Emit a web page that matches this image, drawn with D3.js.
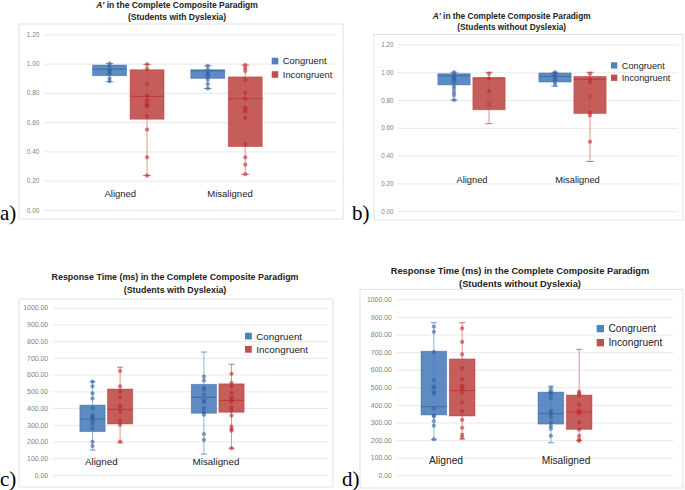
<!DOCTYPE html>
<html>
<head>
<meta charset="utf-8">
<script src="https://cdn.jsdelivr.net/npm/d3@7"></script>
<style>
  body { margin: 0; background: #fff; }
  svg { display: block; font-family: "Liberation Sans", Arial, sans-serif; }
</style>
</head>
<body>
<svg id="chart" width="685" height="490"></svg>
<script>
// --- data ---
const categories = ["Aligned", "Misaligned"];
const seriesNames = ["Congruent", "Incongruent"];
const accTicks = [0, 0.2, 0.4, 0.6, 0.8, 1.0, 1.2];
const rtTicks = [0, 100, 200, 300, 400, 500, 600, 700, 800, 900, 1000];

// A' (students with dyslexia)
const accDys = [
  { cat: "Aligned", s: "Congruent", lo: 0.876, q1: 0.917, med: 0.962, q3: 0.99, hi: 1.0, mean: 0.945,
    pts: [1.0, 0.98, 0.95, 0.93, 0.90, 0.88] },
  { cat: "Aligned", s: "Incongruent", lo: 0.235, q1: 0.62, med: 0.776, q3: 0.958, hi: 0.995, mean: 0.72,
    pts: [0.995, 0.965, 0.86, 0.78, 0.75, 0.72, 0.71, 0.64, 0.55, 0.36, 0.235] },
  { cat: "Misaligned", s: "Congruent", lo: 0.83, q1: 0.899, med: 0.95, q3: 0.958, hi: 0.985, mean: 0.93,
    pts: [0.985, 0.96, 0.93, 0.91, 0.89, 0.86, 0.83] },
  { cat: "Misaligned", s: "Incongruent", lo: 0.244, q1: 0.433, med: 0.76, q3: 0.909, hi: 0.99, mean: 0.683,
    pts: [0.99, 0.97, 0.95, 0.89, 0.80, 0.76, 0.70, 0.675, 0.63, 0.45, 0.36, 0.31, 0.244] }
];

// A' (students without dyslexia)
const accCtrl = [
  { cat: "Aligned", s: "Congruent", lo: 0.80, q1: 0.909, med: 0.975, q3: 0.99, hi: 1.0, mean: 0.948,
    pts: [1.0, 0.98, 0.96, 0.95, 0.93, 0.90, 0.88, 0.855, 0.835, 0.80] },
  { cat: "Aligned", s: "Incongruent", lo: 0.63, q1: 0.73, med: 0.96, q3: 0.96, hi: 1.0, mean: 0.77,
    pts: [0.99, 0.955, 0.866] },
  { cat: "Misaligned", s: "Congruent", lo: 0.90, q1: 0.93, med: 0.97, q3: 0.995, hi: 1.0, mean: 0.96,
    pts: [1.0, 0.99, 0.97, 0.95, 0.93, 0.91] },
  { cat: "Misaligned", s: "Incongruent", lo: 0.358, q1: 0.703, med: 0.95, q3: 0.97, hi: 1.0, mean: 0.823,
    pts: [0.99, 0.95, 0.93, 0.71, 0.69, 0.50] }
];

// Response time (students with dyslexia)
const rtDys = [
  { cat: "Aligned", s: "Congruent", lo: 149, q1: 259, med: 335, q3: 418, hi: 558, mean: 340,
    pts: [558, 530, 488, 458, 400, 358, 345, 329, 309, 279, 199, 173] },
  { cat: "Aligned", s: "Incongruent", lo: 193, q1: 305, med: 392, q3: 514, hi: 644, mean: 405,
    pts: [622, 530, 500, 463, 410, 380, 325, 300, 200] },
  { cat: "Misaligned", s: "Congruent", lo: 125, q1: 369, med: 464, q3: 542, hi: 735, mean: 442,
    pts: [588, 565, 520, 510, 480, 440, 400, 375, 360, 245, 210] },
  { cat: "Misaligned", s: "Incongruent", lo: 160, q1: 375, med: 446, q3: 545, hi: 662, mean: 458,
    pts: [605, 550, 530, 490, 460, 440, 405, 385, 355, 290, 275, 265, 160] }
];

// Response time (students without dyslexia)
const rtCtrl = [
  { cat: "Aligned", s: "Congruent", lo: 202, q1: 343, med: 390, q3: 705, hi: 867, mean: 505,
    pts: [845, 815, 700, 540, 500, 475, 465, 380, 340, 335, 308, 282, 205] },
  { cat: "Aligned", s: "Incongruent", lo: 206, q1: 337, med: 481, q3: 661, hi: 867, mean: 495,
    pts: [835, 758, 688, 608, 545, 510, 495, 470, 415, 365, 315, 270, 230, 215] },
  { cat: "Misaligned", s: "Congruent", lo: 185, q1: 291, med: 350, q3: 473, hi: 507, mean: 470,
    pts: [495, 475, 465, 440, 365, 350, 330, 300, 280, 265, 225] },
  { cat: "Misaligned", s: "Incongruent", lo: 197, q1: 261, med: 360, q3: 456, hi: 716, mean: 360,
    pts: [475, 465, 455, 400, 365, 355, 300, 260, 225, 205, 195] }
];

const fill = { Congruent: "#4f81bd", Incongruent: "#c0504d" };
const dark = { Congruent: "#2f5f9e", Incongruent: "#c0282a" };

// --- layout for each panel ---
const panels = [
  { letter: "a)", boxes: accDys, ticks: accTicks, fmt: d3.format(".2f"), domain: [0, 1.2],
    title: [["A′", " in the Complete Composite Paradigm"], "(Students with Dyslexia)"],
    titleX: 177, titleY: [7.5, 19.5], titleFs: 8.5,
    frame: [19, 24, 343, 219], plotX: [44, 337], plotY: [210, 34.3], tickFs: 6.5,
    centers: [128.3, 226.5], boxW: 34, gap: 3.5, catY: 196.5, catFs: 9.5, catShift: [-8, 3.5],
    legend: { x: 271.7, y: 57.7, sq: 6.6, dy: 13.5, fs: 9.4 },
    letterPos: [0, 220] },
  { letter: "b)", boxes: accCtrl, ticks: accTicks, fmt: d3.format(".2f"), domain: [0, 1.2],
    title: [["A′", " in the Complete Composite Paradigm"], "(Students without Dyslexia)"],
    titleX: 511.7, titleY: [19, 29.5], titleFs: 8.3,
    frame: [374, 34.5, 683, 220], plotX: [398, 678], plotY: [211.2, 44.5], tickFs: 6.3,
    centers: [471.5, 572.5], boxW: 32.3, gap: 2.7, catY: 182.5, catFs: 9.3, catShift: [0.5, 5],
    legend: { x: 611, y: 62.3, sq: 6.3, dy: 12.3, fs: 9.2 },
    letterPos: [352, 220] },
  { letter: "c)", boxes: rtDys, ticks: rtTicks, fmt: d3.format(".2f"), domain: [0, 1000],
    title: [["", "Response Time (ms) in the Complete Composite Paradigm"], "(Students with Dyslexia)"],
    titleX: 175, titleY: [280, 293], titleFs: 8.9,
    frame: [19, 299, 333, 487], plotX: [53, 328], plotY: [475, 307.7], tickFs: 6.9,
    centers: [106.3, 217.7], boxW: 25.3, gap: 2.3, catY: 465, catFs: 9.8, catShift: [-5, -1.7],
    legend: { x: 245, y: 332.7, sq: 6.8, dy: 13.2, fs: 9.8 },
    letterPos: [0, 486] },
  { letter: "d)", boxes: rtCtrl, ticks: rtTicks, fmt: d3.format(".2f"), domain: [0, 1000],
    title: [["", "Response Time (ms) in the Complete Composite Paradigm"], "(Students without Dyslexia)"],
    titleX: 520, titleY: [274, 287], titleFs: 9.3,
    frame: [360, 289.3, 683, 488], plotX: [396.7, 673], plotY: [475.3, 299.3], tickFs: 6.9,
    centers: [448, 565], boxW: 25.7, gap: 2.6, catY: 463.5, catFs: 10.2, catShift: [-2, 1],
    legend: { x: 596.7, y: 325, sq: 7.3, dy: 14, fs: 10.2 },
    letterPos: [342, 486] }
];

const svg = d3.select("#chart");

function drawPanel(p) {
  const g = svg.append("g").attr("class", "panel");

  // outer frame
  g.append("rect")
    .attr("x", p.frame[0]).attr("y", p.frame[1])
    .attr("width", p.frame[2] - p.frame[0]).attr("height", p.frame[3] - p.frame[1])
    .attr("fill", "none").attr("stroke", "#d9d9d9").attr("stroke-width", 0.8);

  const y = d3.scaleLinear().domain(p.domain).range(p.plotY);

  // category bands centred on the read-off positions
  const step = p.centers[1] - p.centers[0];
  const x = d3.scaleBand().domain(categories)
    .range([p.centers[0] - step / 2, p.centers[1] + step / 2]);
  const half = p.boxW + p.gap / 2;
  const xs = d3.scaleBand().domain(seriesNames)
    .range([step / 2 - half, step / 2 + half])
    .paddingInner(p.gap / (p.boxW + p.gap));

  // y axis with gridlines
  const yAxis = d3.axisLeft(y)
    .tickValues(p.ticks)
    .tickSize(-(p.plotX[1] - p.plotX[0]))
    .tickPadding(p.tickFs * 0.7)
    .tickFormat(p.fmt);
  const ag = g.append("g")
    .attr("transform", `translate(${p.plotX[0]},0)`)
    .call(yAxis);
  ag.select(".domain").remove();
  ag.selectAll("line").attr("stroke", "#e3e3e3").attr("stroke-width", 0.8);
  ag.selectAll("text").attr("fill", "#7f7f7f").attr("font-size", p.tickFs)
    .attr("font-family", "Liberation Sans, Arial, sans-serif");

  // category labels
  const xAxis = d3.axisBottom(x).tickSize(0).tickPadding(0);
  const xg = g.append("g").attr("transform", `translate(0,${p.catY})`).call(xAxis);
  xg.select(".domain").remove();
  xg.selectAll("text").attr("dy", 0).attr("y", 0)
    .attr("x", (d, i) => p.catShift[i])
    .attr("fill", "#222").attr("font-size", p.catFs)
    .attr("font-family", "Liberation Sans, Arial, sans-serif");

  // boxes
  const bg = g.selectAll("g.box").data(p.boxes).join("g")
    .attr("class", "box")
    .attr("transform", d => `translate(${x(d.cat) + xs(d.s)},0)`);
  const bw = xs.bandwidth();
  const cx = bw / 2;
  const cap = Math.max(6, bw * 0.23);

  bg.append("line")
    .attr("x1", cx).attr("x2", cx)
    .attr("y1", d => y(d.hi)).attr("y2", d => y(d.lo))
    .attr("stroke", d => fill[d.s]).attr("stroke-opacity", 0.6).attr("stroke-width", 1);
  bg.selectAll("line.cap").data(d => [[d.lo, d.s], [d.hi, d.s]]).join("line")
    .attr("class", "cap")
    .attr("x1", cx - cap / 2).attr("x2", cx + cap / 2)
    .attr("y1", v => y(v[0])).attr("y2", v => y(v[0]))
    .attr("stroke", v => fill[v[1]]).attr("stroke-opacity", 0.8).attr("stroke-width", 1);
  bg.append("rect")
    .attr("x", 0).attr("width", bw)
    .attr("y", d => y(d.q3)).attr("height", d => y(d.q1) - y(d.q3))
    .attr("fill", d => fill[d.s]).attr("fill-opacity", 0.92)
    .attr("stroke", d => dark[d.s]).attr("stroke-opacity", 0.5).attr("stroke-width", 0.8);
  bg.append("line")
    .attr("x1", 0).attr("x2", bw)
    .attr("y1", d => y(d.med)).attr("y2", d => y(d.med))
    .attr("stroke", d => dark[d.s]).attr("stroke-opacity", 0.7).attr("stroke-width", 1);

  // inner points
  bg.selectAll("circle").data(d => d.pts.map(v => ({ v, s: d.s }))).join("circle")
    .attr("cx", cx).attr("cy", v => y(v.v)).attr("r", 1.8)
    .attr("fill", v => dark[v.s]).attr("fill-opacity", 0.55)
    .attr("stroke", v => dark[v.s]).attr("stroke-opacity", 0.6).attr("stroke-width", 0.6);

  // mean marker
  bg.append("path")
    .attr("transform", d => `translate(${cx},${y(d.mean)})`)
    .attr("d", d3.symbol(d3.symbolTimes, 22))
    .attr("fill", "none")
    .attr("stroke", d => dark[d.s]).attr("stroke-opacity", 0.75).attr("stroke-width", 1);

  // legend
  const lg = g.append("g").selectAll("g").data(seriesNames).join("g")
    .attr("transform", (d, i) => `translate(${p.legend.x},${p.legend.y + i * p.legend.dy})`);
  lg.append("rect").attr("width", p.legend.sq).attr("height", p.legend.sq)
    .attr("fill", d => fill[d]);
  lg.append("text")
    .attr("x", p.legend.sq + 4.5).attr("y", p.legend.sq / 2).attr("dy", "0.36em")
    .attr("font-size", p.legend.fs).attr("fill", "#222").text(d => d);

  // title (two lines, A' in italics)
  const t = g.append("text").attr("text-anchor", "middle")
    .attr("font-weight", "bold").attr("font-size", p.titleFs).attr("fill", "#222");
  const l1 = t.append("tspan").attr("x", p.titleX).attr("y", p.titleY[0]);
  if (p.title[0][0]) l1.append("tspan").attr("font-style", "italic").text(p.title[0][0]);
  l1.append("tspan").text(p.title[0][1]);
  t.append("tspan").attr("x", p.titleX).attr("y", p.titleY[1]).text(p.title[1]);

  // panel letter
  g.append("text")
    .attr("x", p.letterPos[0]).attr("y", p.letterPos[1])
    .attr("font-family", "Liberation Serif, 'Times New Roman', serif")
    .attr("font-size", 21).attr("fill", "#000").text(p.letter);
}

panels.forEach(drawPanel);
</script>
</body>
</html>
